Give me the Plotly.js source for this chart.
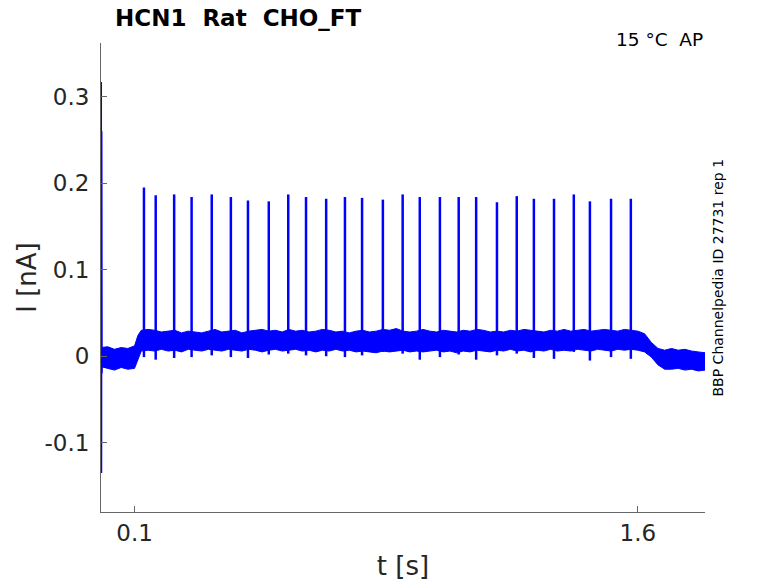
<!DOCTYPE html>
<html>
<head>
<meta charset="utf-8">
<script src="https://cdn.plot.ly/plotly-3.0.1.min.js"></script>
<style>html,body{margin:0;padding:0;background:#fff;}#chart{width:778px;height:583px;}</style>
</head>
<body>
<div id="chart"></div>
<script>
// ---- data ----
// noise band envelope (time in s, current in nA)
var bandT = [0.000,0.020,0.040,0.060,0.080,0.100,0.110,0.120,0.140,0.160,0.180,0.200,0.220,0.240,0.260,0.280,0.300,0.320,0.340,0.360,0.380,0.400,0.420,0.440,0.460,0.480,0.500,0.520,0.540,0.560,0.580,0.600,0.620,0.640,0.660,0.680,0.700,0.720,0.740,0.760,0.780,0.800,0.820,0.840,0.860,0.880,0.900,0.920,0.940,0.960,0.980,1.000,1.020,1.040,1.060,1.080,1.100,1.120,1.140,1.160,1.180,1.200,1.220,1.240,1.260,1.280,1.300,1.320,1.340,1.360,1.380,1.400,1.420,1.440,1.460,1.480,1.500,1.520,1.540,1.560,1.580,1.600,1.620,1.640,1.660,1.680,1.700,1.720,1.740,1.760,1.780,1.800];
var bandHi = [0.010,0.011,0.008,0.010,0.009,0.012,0.024,0.030,0.031,0.030,0.028,0.029,0.030,0.027,0.029,0.028,0.027,0.029,0.031,0.028,0.029,0.030,0.027,0.029,0.030,0.031,0.029,0.030,0.028,0.031,0.029,0.030,0.028,0.029,0.031,0.030,0.028,0.029,0.027,0.029,0.030,0.028,0.029,0.031,0.030,0.032,0.029,0.028,0.029,0.031,0.029,0.028,0.030,0.029,0.028,0.030,0.029,0.031,0.030,0.028,0.029,0.028,0.030,0.029,0.031,0.030,0.029,0.028,0.030,0.029,0.031,0.029,0.030,0.031,0.029,0.030,0.031,0.030,0.029,0.031,0.030,0.029,0.026,0.016,0.009,0.007,0.009,0.007,0.008,0.006,0.005,0.004];
var bandLo = [-0.012,-0.014,-0.016,-0.013,-0.015,-0.014,-0.003,0.006,0.007,0.006,0.008,0.006,0.007,0.005,0.008,0.007,0.006,0.008,0.007,0.006,0.008,0.007,0.006,0.008,0.007,0.005,0.007,0.008,0.006,0.007,0.008,0.006,0.007,0.005,0.007,0.006,0.008,0.006,0.007,0.005,0.006,0.005,0.004,0.006,0.005,0.006,0.007,0.005,0.006,0.005,0.006,0.007,0.005,0.006,0.004,0.006,0.005,0.007,0.006,0.005,0.007,0.006,0.008,0.006,0.007,0.005,0.007,0.006,0.008,0.006,0.007,0.006,0.008,0.007,0.006,0.008,0.007,0.006,0.008,0.007,0.008,0.007,0.005,-0.001,-0.010,-0.015,-0.015,-0.014,-0.016,-0.015,-0.017,-0.016];

// action-potential-like spikes: time, peak, trough after spike
var spikeT = [0.128,0.163,0.218,0.270,0.330,0.387,0.438,0.500,0.558,0.611,0.671,0.727,0.778,0.840,0.899,0.950,1.010,1.066,1.118,1.180,1.239,1.290,1.350,1.409,1.457,1.520,1.579];
var spikePeak = [0.195,0.186,0.187,0.184,0.187,0.184,0.180,0.179,0.187,0.184,0.182,0.184,0.183,0.181,0.187,0.184,0.184,0.184,0.184,0.178,0.185,0.182,0.182,0.187,0.179,0.182,0.182];
var spikeTrough = [-0.001,-0.004,-0.002,-0.001,0.001,-0.001,-0.002,0.002,0.003,0.001,0.000,-0.001,0.001,0.005,0.003,-0.004,-0.001,0.002,-0.004,0.001,0.003,-0.002,-0.003,0.005,-0.005,-0.001,-0.003];

// capacitive transient at the start
var transT = [0.0000,0.0008,0.0015,0.0022,0.0030,0.0040];
var transV = [0.000,0.317,-0.135,0.260,-0.020,0.000];

// tick labels
var xTickVals = [0.1, 1.6];
var xTickText = ['0.1', '1.6'];
var yTickVals = [-0.1, 0, 0.1, 0.2, 0.3];
var yTickText = ['-0.1', '0', '0.1', '0.2', '0.3'];

// ---- build traces ----
var bandX = bandT.concat(bandT.slice().reverse());
var bandY = bandHi.concat(bandLo.slice().reverse());

var spX = [], spY = [];
for (var i = 0; i < spikeT.length; i++) {
  spX.push(spikeT[i], spikeT[i], null);
  spY.push(spikeTrough[i], spikePeak[i], null);
}

var traces = [
  {x: bandX, y: bandY, type: 'scatter', mode: 'lines', fill: 'toself',
   fillcolor: '#0000ff', line: {color: '#0000ff', width: 1}, hoverinfo: 'skip', showlegend: false},
  {x: spX, y: spY, type: 'scatter', mode: 'lines', connectgaps: false,
   line: {color: '#0000ff', width: 2.5}, showlegend: false},
  {x: transT, y: transV, type: 'scatter', mode: 'lines',
   line: {color: '#0000ff', width: 1.5}, showlegend: false}
];

var fontFam = 'DejaVu Sans, sans-serif';
var txtCol = '#262626';

var layout = {
  width: 778, height: 583,
  margin: {l: 101, r: 73, t: 43, b: 71, pad: 0},
  paper_bgcolor: '#fff', plot_bgcolor: '#fff',
  font: {family: fontFam, color: txtCol, size: 23},
  showlegend: false,
  title: {text: '<b>HCN1\u00a0\u00a0Rat\u00a0\u00a0CHO_FT</b>', xref: 'container', yref: 'container',
          x: 115/778, xanchor: 'left', y: 1 - 18/583, yanchor: 'middle',
          font: {family: fontFam, size: 23, color: '#000'}},
  xaxis: {range: [0, 1.8], showgrid: false, zeroline: false, showline: true,
          linecolor: '#666', linewidth: 1, ticks: 'inside', ticklen: 6, tickcolor: '#666',
          tickvals: xTickVals, ticktext: xTickText, tickfont: {size: 23, color: txtCol},
          title: {text: 't [s]', font: {size: 26, color: txtCol}, standoff: 12}},
  yaxis: {range: [-0.18, 0.362], showgrid: false, zeroline: false, showline: true,
          linecolor: '#666', linewidth: 1, ticks: 'inside', ticklen: 6, tickcolor: '#666',
          tickvals: yTickVals, ticktext: yTickText, tickfont: {size: 23, color: txtCol},
          ticklabelstandoff: 6,
          title: {text: 'I [nA]', font: {size: 26, color: txtCol}, standoff: 0}},
  annotations: [
    {text: '15 °C\u00a0\u00a0AP', xref: 'paper', yref: 'paper', x: (705-101)/604, y: (512-40)/469,
     xanchor: 'right', yanchor: 'middle', showarrow: false, font: {size: 18.5, color: '#000'}},
    {text: 'BBP Channelpedia ID 27731 rep 1', xref: 'paper', yref: 'paper', x: (717-101)/604, y: 0.5,
     xanchor: 'center', yanchor: 'middle', textangle: -90, showarrow: false, font: {size: 14, color: '#000'}}
  ]
};

Plotly.newPlot('chart', traces, layout, {staticPlot: true, displayModeBar: false});
</script>
</body>
</html>
